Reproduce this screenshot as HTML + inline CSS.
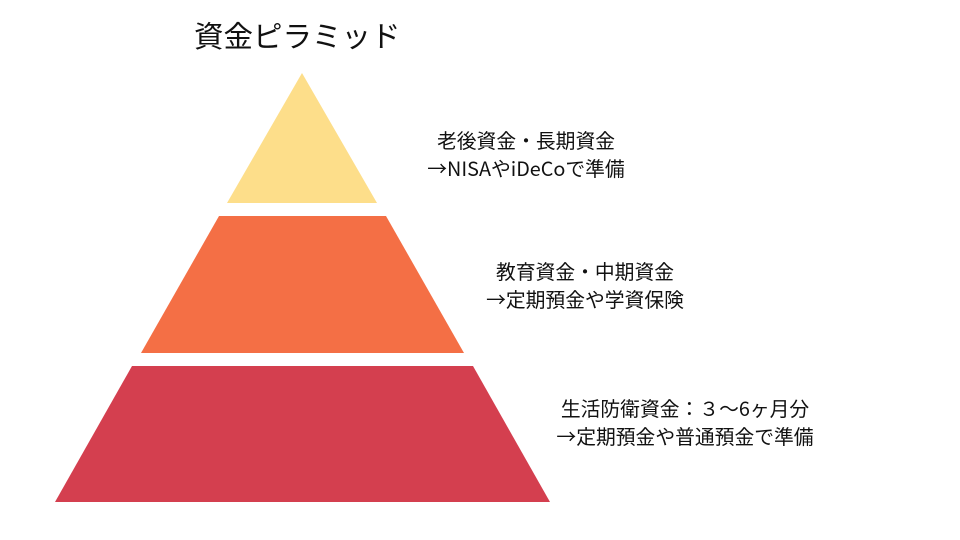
<!DOCTYPE html>
<html><head><meta charset="utf-8"><style>
html,body{margin:0;padding:0;background:#fff;}
body{width:960px;height:540px;position:relative;overflow:hidden;font-family:"Noto Sans CJK JP","Liberation Sans",sans-serif;color:#111;}
.t{position:absolute;text-align:center;font-size:19.8px;line-height:28px;white-space:nowrap;transform:translateX(-50%);}
</style></head><body>
<div style="position:absolute;left:194px;top:14px;font-size:29.5px;line-height:42px;white-space:nowrap;">資金ピラミッド</div>
<svg width="960" height="540" style="position:absolute;left:0;top:0">
<polygon points="302,73 377,203 227,203" fill="#FDDE8A"/>
<polygon points="219,216 386,216 464,353 141,353" fill="#F46F45"/>
<polygon points="132,366 473,366 550,502 55,502" fill="#D43F4F"/>
</svg>
<div class="t" style="left:526px;top:126px;">老後資金・長期資金<br>→NISAやiDeCoで準備</div>
<div class="t" style="left:585px;top:257px;">教育資金・中期資金<br>→定期預金や学資保険</div>
<div class="t" style="left:685px;top:394px;">生活防衛資金：３～6ヶ月分<br>→定期預金や普通預金で準備</div>
</body></html>
